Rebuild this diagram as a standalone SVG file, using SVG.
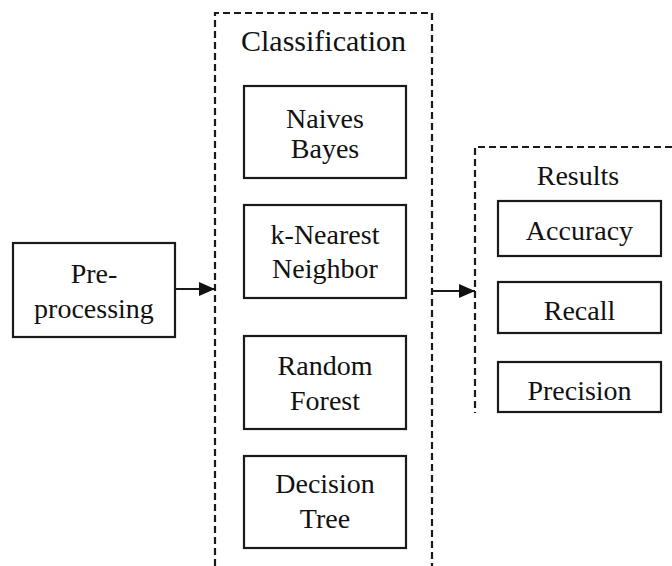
<svg xmlns="http://www.w3.org/2000/svg" width="672" height="566" viewBox="0 0 672 566">
<defs>
<style>
.box{fill:#fff;stroke:#1a1a1a;stroke-width:2.2}
.dash{fill:none;stroke:#1a1a1a;stroke-width:2.2;stroke-dasharray:7 4}
.conn{fill:none;stroke:#1a1a1a;stroke-width:2}
text{font-family:"Liberation Serif","Times New Roman",serif;font-size:28px;fill:#111;text-anchor:middle}
</style>
<marker id="arr" viewBox="0 0 16 14" refX="16" refY="7" markerWidth="16" markerHeight="14" markerUnits="userSpaceOnUse" orient="auto">
<path d="M0,0 L16,7 L0,14 Z" fill="#111"/>
</marker>
</defs>
<rect width="672" height="566" fill="#fff"/>
<g id="classification-group">
<path class="dash" d="M215 566 V13 H432 V566"/>
<text x="323.5" y="51" style="font-size:30px">Classification</text>
</g>
<g id="results-group">
<path class="dash" d="M672 147 H475 V413"/>
<text x="578" y="185">Results</text>
</g>
<g id="preprocessing">
<rect class="box" x="13" y="243" width="162" height="94"/>
<text x="94" y="283">Pre-</text>
<text x="94" y="318">processing</text>
</g>
<g id="naive-bayes">
<rect class="box" x="244" y="86" width="162" height="92"/>
<text x="325" y="128">Naives</text>
<text x="325" y="158">Bayes</text>
</g>
<g id="knn">
<rect class="box" x="244" y="205" width="162" height="93"/>
<text x="325" y="244">k-Nearest</text>
<text x="325" y="278">Neighbor</text>
</g>
<g id="random-forest">
<rect class="box" x="244" y="336" width="162" height="93"/>
<text x="325" y="375">Random</text>
<text x="325" y="410">Forest</text>
</g>
<g id="decision-tree">
<rect class="box" x="244" y="456" width="162" height="92"/>
<text x="325" y="493">Decision</text>
<text x="325" y="528">Tree</text>
</g>
<g id="accuracy">
<rect class="box" x="498" y="201" width="163" height="55"/>
<text x="579.5" y="240">Accuracy</text>
</g>
<g id="recall">
<rect class="box" x="498" y="282" width="163" height="51"/>
<text x="579.5" y="320">Recall</text>
</g>
<g id="precision">
<rect class="box" x="498" y="362" width="163" height="50"/>
<text x="579.5" y="400">Precision</text>
</g>
<g id="connectors">
<path class="conn" d="M175 289 H215" marker-end="url(#arr)"/>
<path class="conn" d="M432 291 H475" marker-end="url(#arr)"/>
</g>
</svg>
